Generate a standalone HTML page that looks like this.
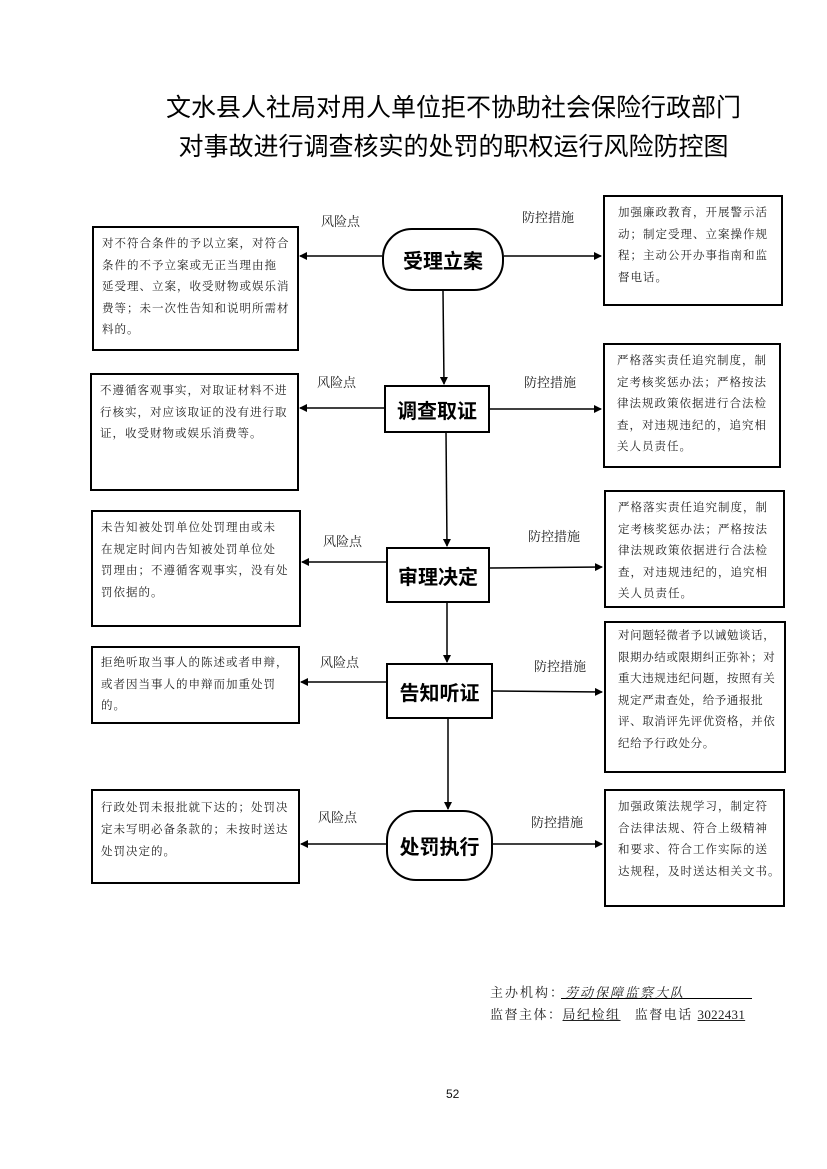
<!DOCTYPE html>
<html><head><meta charset="utf-8"><style>
body{margin:0;width:827px;height:1169px;background:#fff;position:relative;font-family:"Liberation Serif","Noto Serif CJK SC",serif;color:#111;overflow:hidden}
.a{position:absolute}
.t{position:absolute;left:40px;width:827px;text-align:center;font-family:"Liberation Sans","Noto Sans CJK SC",sans-serif;color:#000;white-space:nowrap}
.box{position:absolute;border:2px solid #000;box-sizing:border-box;font-size:11.5px;line-height:21.5px;letter-spacing:1px;padding:6px 0 0 8px;white-space:nowrap;color:#222}
.node{position:absolute;border:2px solid #000;box-sizing:border-box;font-family:"Liberation Sans","Noto Sans CJK SC",sans-serif;font-weight:bold;font-size:20px;display:flex;align-items:center;justify-content:center;color:#000;background:#fff}
.lb{position:absolute;font-size:13px;color:#222;white-space:nowrap}
</style></head><body>
<div class="t" style="top:88px;font-size:25px;">文水县人社局对用人单位拒不协助社会保险行政部门</div>
<div class="t" style="top:127px;font-size:25px;">对事故进行调查核实的处罚的职权运行风险防控图</div>

<svg class="a" style="left:0;top:0" width="827" height="1169">
<defs><marker id="m" markerWidth="8" markerHeight="8" refX="7" refY="4" orient="auto" markerUnits="userSpaceOnUse"><path d="M0,0 L8,4 L0,8 z" fill="#000"/></marker></defs>
<g stroke="#000" stroke-width="1.5" fill="none" marker-end="url(#m)">
<line x1="443" y1="291" x2="444" y2="384"/>
<line x1="446" y1="432" x2="447" y2="546"/>
<line x1="447" y1="603" x2="447" y2="662"/>
<line x1="448" y1="719" x2="448" y2="809"/>
<line x1="382" y1="256" x2="300" y2="256"/>
<line x1="504" y1="256" x2="601" y2="256"/>
<line x1="384" y1="408" x2="300" y2="408"/>
<line x1="490" y1="409" x2="601" y2="409"/>
<line x1="386" y1="562" x2="302" y2="562"/>
<line x1="490" y1="568" x2="602" y2="567"/>
<line x1="386" y1="682" x2="301" y2="682"/>
<line x1="493" y1="691" x2="602" y2="692"/>
<line x1="386" y1="844" x2="301" y2="844"/>
<line x1="493" y1="844" x2="602" y2="844"/>
</g></svg>

<div class="node" style="left:382px;top:228px;width:122px;height:63px;border-radius:30px;">受理立案</div>
<div class="node" style="left:384px;top:385px;width:106px;height:48px;">调查取证</div>
<div class="node" style="left:386px;top:547px;width:104px;height:56px;">审理决定</div>
<div class="node" style="left:386px;top:663px;width:107px;height:56px;">告知听证</div>
<div class="node" style="left:386px;top:810px;width:107px;height:71px;border-radius:30px;">处罚执行</div>

<div class="box" style="left:92px;top:226px;width:207px;height:125px;">对不符合条件的予以立案，对符合<br>条件的不予立案或无正当理由拖<br>延受理、立案，收受财物或娱乐消<br>费等；未一次性告知和说明所需材<br>料的。</div>
<div class="box" style="left:603px;top:195px;width:180px;height:111px;padding-left:13px;">加强廉政教育，开展警示活<br>动；制定受理、立案操作规<br>程；主动公开办事指南和监<br>督电话。</div>
<div class="box" style="left:90px;top:373px;width:209px;height:118px;">不遵循客观事实，对取证材料不进<br>行核实，对应该取证的没有进行取<br>证，收受财物或娱乐消费等。</div>
<div class="box" style="left:603px;top:343px;width:178px;height:125px;padding-left:12px;">严格落实责任追究制度，制<br>定考核奖惩办法；严格按法<br>律法规政策依据进行合法检<br>查，对违规违纪的，追究相<br>关人员责任。</div>
<div class="box" style="left:91px;top:510px;width:210px;height:117px;">未告知被处罚单位处罚理由或未<br>在规定时间内告知被处罚单位处<br>罚理由；不遵循客观事实，没有处<br>罚依据的。</div>
<div class="box" style="left:604px;top:490px;width:181px;height:118px;padding-left:12px;">严格落实责任追究制度，制<br>定考核奖惩办法；严格按法<br>律法规政策依据进行合法检<br>查，对违规违纪的，追究相<br>关人员责任。</div>
<div class="box" style="left:91px;top:646px;width:209px;height:78px;padding-top:5px;">拒绝听取当事人的陈述或者申辩，<br>或者因当事人的申辩而加重处罚<br>的。</div>
<div class="box" style="left:604px;top:621px;width:182px;height:152px;padding-left:12px;padding-top:3px;letter-spacing:0.6px;">对问题轻微者予以诫勉谈话，<br>限期办结或限期纠正弥补；对<br>重大违规违纪问题，按照有关<br>规定严肃查处，给予通报批<br>评、取消评先评优资格，并依<br>纪给予行政处分。</div>
<div class="box" style="left:91px;top:789px;width:209px;height:95px;line-height:22px;padding-top:6px;">行政处罚未报批就下达的；处罚决<br>定未写明必备条款的；未按时送达<br>处罚决定的。</div>
<div class="box" style="left:604px;top:789px;width:181px;height:118px;padding-left:12px;">加强政策法规学习，制定符<br>合法律法规、符合上级精神<br>和要求、符合工作实际的送<br>达规程，及时送达相关文书。</div>

<div class="lb" style="left:321px;top:211px;">风险点</div>
<div class="lb" style="left:522px;top:207px;">防控措施</div>
<div class="lb" style="left:317px;top:372px;">风险点</div>
<div class="lb" style="left:524px;top:372px;">防控措施</div>
<div class="lb" style="left:323px;top:531px;">风险点</div>
<div class="lb" style="left:528px;top:526px;">防控措施</div>
<div class="lb" style="left:320px;top:652px;">风险点</div>
<div class="lb" style="left:534px;top:656px;">防控措施</div>
<div class="lb" style="left:318px;top:807px;">风险点</div>
<div class="lb" style="left:531px;top:812px;">防控措施</div>

<div class="lb" style="left:490px;top:982px;letter-spacing:2px;">主办机构：<span style="font-style:italic;">劳动保障监察大队</span></div>
<div class="a" style="left:561px;top:998px;width:191px;border-top:1px solid #000;"></div>
<div class="lb" style="left:490px;top:1004px;letter-spacing:1.5px;">监督主体：<span style="text-decoration:underline;">局纪检组</span>&nbsp;&nbsp;&nbsp;监督电话 <span style="text-decoration:underline;letter-spacing:0.3px;">3022431</span></div>
<div class="a" style="left:446px;top:1087px;font-family:'Liberation Sans',sans-serif;font-size:12px;">52</div>
</body></html>
